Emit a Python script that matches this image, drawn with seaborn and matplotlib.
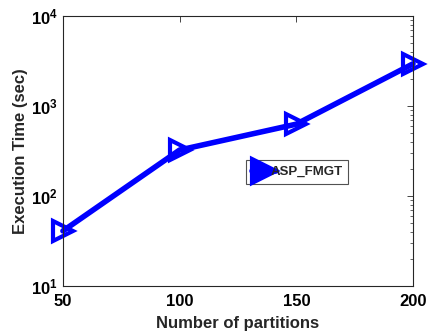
import matplotlib
matplotlib.use("Agg")
import matplotlib.pyplot as plt
import seaborn as sns
import pandas as pd
from matplotlib.ticker import LogLocator, NullFormatter, FixedLocator

partitions = [50, 100, 150, 200]
exec_time = [41, 325, 630, 2950]
series_name = "ASP_FMGT"

df = pd.DataFrame({"partitions": partitions, "time": exec_time, "method": series_name})

sns.set_style("white")
plt.rcParams["font.family"] = ["Liberation Sans", "DejaVu Sans"]
plt.rcParams["font.weight"] = "bold"
plt.rcParams["mathtext.default"] = "bf"

fig = plt.figure(figsize=(4.28, 3.35), dpi=100)
ax = fig.add_axes([0.147, 0.146, 0.818, 0.806])

sns.lineplot(data=df, x="partitions", y="time", hue="method", palette=["#0000ff"],
             marker=">", markersize=15, markerfacecolor="none", markeredgewidth=3,
             markeredgecolor="#0000ff", linewidth=4, ax=ax, legend=True, clip_on=False)

ax.set_yscale("log")
ax.set_xlim(50, 200)
ax.set_ylim(10, 1e4)
ax.xaxis.set_major_locator(FixedLocator(partitions))
ax.yaxis.set_major_locator(LogLocator(base=10, numticks=10))
ax.yaxis.set_minor_locator(LogLocator(base=10, subs=range(2, 10), numticks=10))
ax.yaxis.set_minor_formatter(NullFormatter())

ax.set_xlabel("Number of partitions", fontsize=12, fontweight="bold", labelpad=5)
ax.set_ylabel("Execution Time (sec)", fontsize=12, fontweight="bold", labelpad=2)

for s in ax.spines.values():
    s.set_color("#262626")
    s.set_linewidth(0.8)
ax.tick_params(which="both", direction="in", top=True, right=True, colors="#262626",
               labelcolor="black", labelsize=12)
ax.tick_params(axis="x", pad=6)
ax.tick_params(which="major", length=4, width=0.6)
ax.tick_params(which="minor", length=2.5, width=0.5)
for lbl in ax.get_xticklabels() + ax.get_yticklabels():
    lbl.set_fontweight("bold")

leg = ax.legend(loc="upper left", bbox_to_anchor=(0.523, 0.467), frameon=True, fancybox=False,
                edgecolor="#262626", fontsize=9.5, handlelength=1.8, handletextpad=-0.4,
                borderpad=0.45, borderaxespad=0)
leg.get_frame().set_linewidth(0.8)
for t in leg.get_texts():
    t.set_fontweight("bold")
for h in leg.legend_handles:
    h.set_markerfacecolor("#0000ff")
    h.set_markersize(17)
    h.set_markevery([1])

fig.savefig("out.png", dpi=100)
